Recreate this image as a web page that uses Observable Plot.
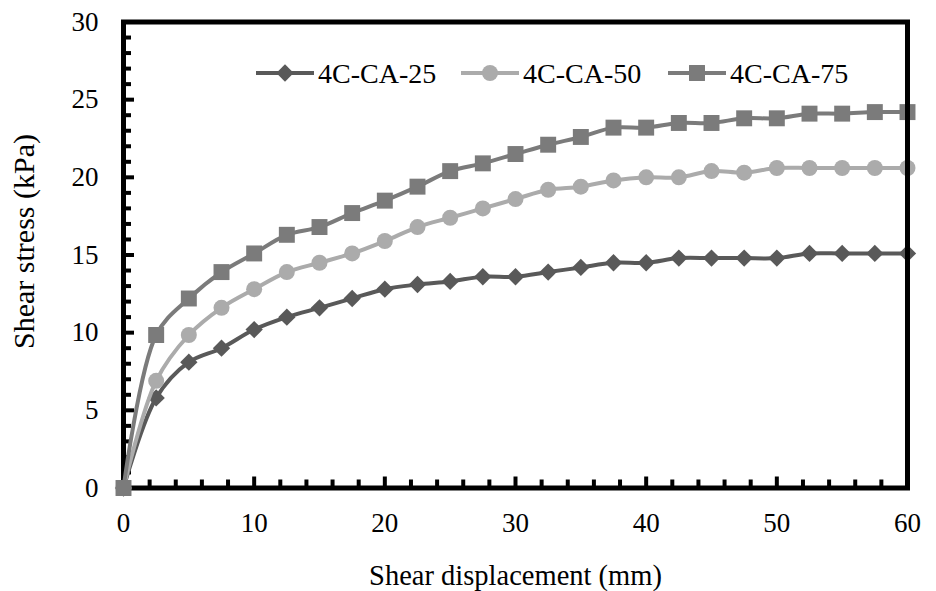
<!DOCTYPE html>
<html>
<head>
<meta charset="utf-8">
<script src="https://cdn.jsdelivr.net/npm/d3@7"></script>
<script src="https://cdn.jsdelivr.net/npm/@observablehq/plot@0.6"></script>
<style>
  html, body { margin: 0; padding: 0; background: #fff; }
  #wrap { position: relative; width: 936px; height: 591px; }
  #legend { position: absolute; left: 0; top: 0; pointer-events: none; }
  #wrap svg text { font-family: "Liberation Serif", "Times New Roman", serif; }
</style>
</head>
<body>
<div id="wrap"></div>
<script>
// ---- data ----
const displacement = [0, 2.5, 5, 7.5, 10, 12.5, 15, 17.5, 20, 22.5, 25, 27.5, 30, 32.5, 35, 37.5, 40, 42.5, 45, 47.5, 50, 52.5, 55, 57.5, 60];
const stressCA25 = [0, 5.8, 8.1, 9.0, 10.2, 11.0, 11.6, 12.2, 12.8, 13.1, 13.3, 13.6, 13.6, 13.9, 14.2, 14.5, 14.5, 14.8, 14.8, 14.8, 14.8, 15.1, 15.1, 15.1, 15.1];
const stressCA50 = [0, 6.9, 9.85, 11.6, 12.8, 13.9, 14.5, 15.1, 15.9, 16.8, 17.4, 18.0, 18.6, 19.2, 19.4, 19.8, 20.0, 20.0, 20.4, 20.3, 20.6, 20.6, 20.6, 20.6, 20.6];
const stressCA75 = [0, 9.85, 12.2, 13.9, 15.1, 16.3, 16.8, 17.7, 18.5, 19.4, 20.4, 20.9, 21.5, 22.1, 22.6, 23.2, 23.2, 23.5, 23.5, 23.8, 23.8, 24.1, 24.1, 24.2, 24.2];
const seriesNames = ["4C-CA-25", "4C-CA-50", "4C-CA-75"];
const xMajorTicks = [0, 10, 20, 30, 40, 50, 60];
const xMinorTicks = [2, 4, 6, 8, 12, 14, 16, 18, 22, 24, 26, 28, 32, 34, 36, 38, 42, 44, 46, 48, 52, 54, 56, 58];
const yMajorTicks = [0, 5, 10, 15, 20, 25, 30];
const yMinorTicks = [1, 2, 3, 4, 6, 7, 8, 9, 11, 12, 13, 14, 16, 17, 18, 19, 21, 22, 23, 24, 26, 27, 28, 29];
const xTitle = "Shear displacement (mm)";
const yTitle = "Shear stress (kPa)";

// ---- styles / layout ----
const W = 936, H = 591;
const mL = 123, mR = 29, mT = 21.5, mB = 103.5;
const plotW = W - mL - mR, plotH = H - mT - mB;
const colors = {"4C-CA-25": "#595959", "4C-CA-50": "#ababab", "4C-CA-75": "#7b7b7b"};
const symbols = {"4C-CA-25": "diamond2", "4C-CA-50": "circle", "4C-CA-75": "square"};
const radius = {"4C-CA-25": 7.8, "4C-CA-50": 8, "4C-CA-75": 9};
const font = "Liberation Serif, Times New Roman, serif";
const tickW = 4, minorLen = 8, majorLen = 11;
const frameW = 5;

const seriesValues = [stressCA25, stressCA50, stressCA75];
const rows = seriesNames.flatMap((name, k) =>
  displacement.map((x, i) => ({series: name, x, y: seriesValues[k][i]})));

const marks = [];
seriesNames.forEach(name => {
  const d = rows.filter(r => r.series === name);
  marks.push(Plot.line(d, {x: "x", y: "y", stroke: colors[name], strokeWidth: 4, curve: "catmull-rom"}));
  marks.push(Plot.dot(d, {x: "x", y: "y", symbol: symbols[name], r: radius[name], fill: colors[name], stroke: "none"}));
});

const chart = Plot.plot({
  width: W,
  height: H,
  marginLeft: mL,
  marginRight: mR,
  marginTop: mT,
  marginBottom: mB,
  style: {fontFamily: font, background: "#fff", color: "#000"},
  x: {domain: [0, 60]},
  y: {domain: [0, 30]},
  marks: [
    Plot.frame({stroke: "#000", strokeWidth: frameW}),
    // inward ticks (bottom & left)
    Plot.ruleX(xMinorTicks, {x: d => d, insetTop: plotH - minorLen, stroke: "#000", strokeWidth: tickW}),
    Plot.ruleX(xMajorTicks, {x: d => d, insetTop: plotH - majorLen, stroke: "#000", strokeWidth: tickW}),
    Plot.ruleY(yMinorTicks, {y: d => d, insetRight: plotW - minorLen, stroke: "#000", strokeWidth: tickW}),
    Plot.ruleY(yMajorTicks, {y: d => d, insetRight: plotW - majorLen, stroke: "#000", strokeWidth: tickW}),
    // tick labels
    Plot.axisX({ticks: xMajorTicks, tickSize: 0, tickPadding: 25, fontSize: 27, label: null, tickFormat: d => String(d)}),
    Plot.axisY({ticks: yMajorTicks, tickSize: 0, tickPadding: 25, fontSize: 27, label: null, tickFormat: d => String(d)}),
    // axis titles
    Plot.text([xTitle], {text: d => d, frameAnchor: "bottom", textAnchor: "middle", lineAnchor: "middle", dy: 87.5, fontSize: 28.5, fill: "#000"}),
    Plot.text([yTitle], {text: d => d, frameAnchor: "left", textAnchor: "middle", lineAnchor: "middle", dx: -99, dy: -13.5, rotate: -90, fontSize: 30, fill: "#000"}),
    ...marks,
    // right border drawn over the series (as in the reference)
    Plot.ruleX([xMajorTicks[xMajorTicks.length - 1]], {x: d => d, stroke: "#000", strokeWidth: frameW})
  ]
});

const wrap = document.getElementById("wrap");
wrap.appendChild(chart);

// ---- legend overlay inside plot area ----
const overlay = d3.select(wrap).append("svg")
  .attr("id", "legend").attr("width", W).attr("height", H);
const itemStarts = [256, 461, 668];
const cy = 73;
const symbolMap = {diamond2: d3.symbolDiamond2, circle: d3.symbolCircle, square: d3.symbolSquare};
seriesNames.forEach((name, k) => {
  const x0 = itemStarts[k];
  const g = overlay.append("g");
  g.append("line").attr("x1", x0).attr("x2", x0 + 58).attr("y1", cy).attr("y2", cy)
    .attr("stroke", colors[name]).attr("stroke-width", 4);
  const r = radius[name];
  g.append("path")
    .attr("d", d3.symbol(symbolMap[symbols[name]], Math.PI * r * r)())
    .attr("transform", `translate(${x0 + 29},${cy})`)
    .attr("fill", colors[name]);
  g.append("text").attr("x", x0 + 62).attr("y", cy).attr("dy", "0.35em")
    .attr("font-family", font).attr("font-size", 28).attr("fill", "#000")
    .text(name);
});
</script>
</body>
</html>
